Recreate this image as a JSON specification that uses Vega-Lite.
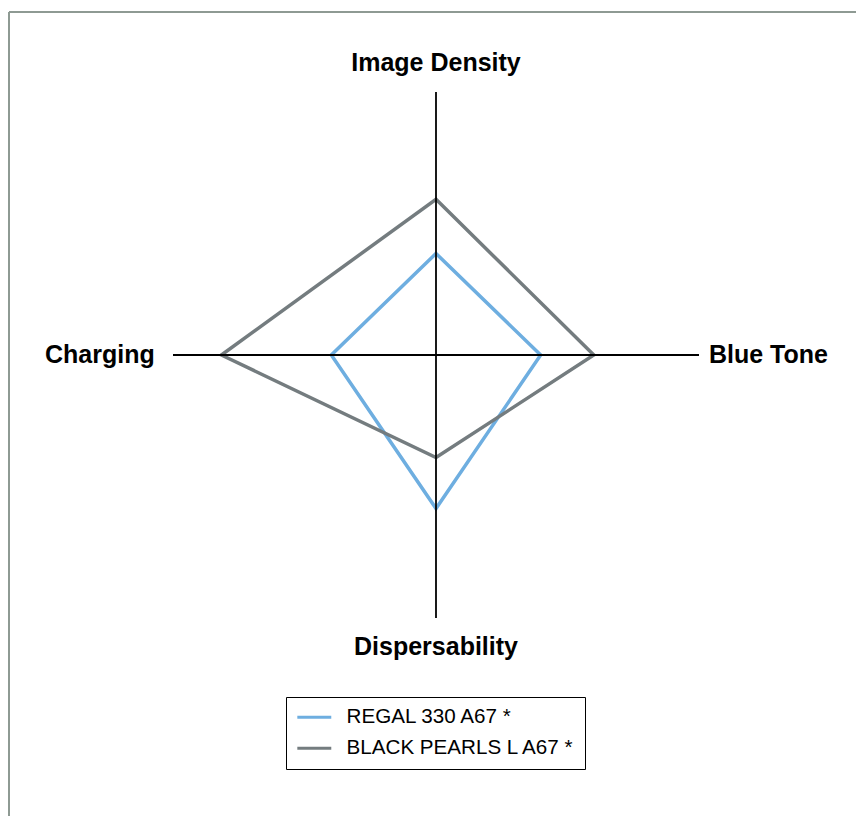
{
  "$schema": "https://vega.github.io/schema/vega-lite/v6.json",
  "width": 847,
  "height": 804,
  "autosize": "none",
  "padding": {"left": 9, "top": 12, "right": 0, "bottom": 0},
  "background": "white",
  "config": {"view": {"stroke": null}, "font": "Liberation Sans"},
  "datasets": {
    "scores": [
      {"series": "REGAL 330 A67 *", "axis": "Image Density", "value": 1.93},
      {"series": "REGAL 330 A67 *", "axis": "Blue Tone", "value": 1.99},
      {"series": "REGAL 330 A67 *", "axis": "Dispersability", "value": 2.92},
      {"series": "REGAL 330 A67 *", "axis": "Charging", "value": 1.99},
      {"series": "BLACK PEARLS L A67 *", "axis": "Image Density", "value": 2.96},
      {"series": "BLACK PEARLS L A67 *", "axis": "Blue Tone", "value": 3.0},
      {"series": "BLACK PEARLS L A67 *", "axis": "Dispersability", "value": 1.95},
      {"series": "BLACK PEARLS L A67 *", "axis": "Charging", "value": 4.08}
    ],
    "axes": [
      {"axis": "Image Density", "max": 5},
      {"axis": "Blue Tone", "max": 5},
      {"axis": "Dispersability", "max": 5},
      {"axis": "Charging", "max": 5}
    ],
    "frame": [{"edge": "frame"}]
  },
  "layer": [
    {
      "data": {"name": "frame"},
      "mark": {"type": "rule", "color": "#8e9a93", "strokeWidth": 2},
      "encoding": {
        "x": {"datum": -8.118, "type": "quantitative", "scale": {"domain": [-8.118, 7.985], "nice": false, "zero": false}, "axis": null}
      }
    },
    {
      "data": {"name": "frame"},
      "mark": {"type": "rule", "color": "#8e9a93", "strokeWidth": 2},
      "encoding": {
        "y": {"datum": 6.521, "type": "quantitative", "scale": {"domain": [-8.764, 6.521], "nice": false, "zero": false}, "axis": null}
      }
    },
    {
      "data": {"name": "scores"},
      "transform": [
        {"calculate": "indexof(['Image Density','Blue Tone','Dispersability','Charging'], datum.axis)", "as": "k"},
        {"calculate": "datum.value * sin(datum.k * PI / 2)", "as": "px"},
        {"calculate": "datum.value * cos(datum.k * PI / 2)", "as": "py"}
      ],
      "mark": {"type": "line", "interpolate": "linear-closed", "strokeWidth": 3.5, "strokeJoin": "miter"},
      "encoding": {
        "x": {"field": "px", "type": "quantitative", "scale": {"domain": [-8.118, 7.985], "nice": false, "zero": false}, "axis": null},
        "y": {"field": "py", "type": "quantitative", "scale": {"domain": [-8.764, 6.521], "nice": false, "zero": false}, "axis": null},
        "order": {"field": "k", "type": "quantitative"},
        "color": {
          "field": "series",
          "type": "nominal",
          "scale": {"domain": ["REGAL 330 A67 *", "BLACK PEARLS L A67 *"], "range": ["#6eaee0", "#747c7f"]},
          "legend": {
            "title": null,
            "orient": "none",
            "legendX": 277,
            "legendY": 685,
            "direction": "vertical",
            "strokeColor": "black",
            "fillColor": "white",
            "padding": 10,
            "symbolType": "M-3,0H3",
            "symbolStrokeWidth": 3,
            "symbolSize": 128,
            "symbolOffset": 8,
            "labelFontSize": 20.6,
            "labelFont": "Liberation Sans",
            "labelColor": "black",
            "labelOffset": 22,
            "labelLimit": 400,
            "rowPadding": 10
          }
        }
      }
    },
    {
      "data": {"name": "axes"},
      "transform": [
        {"calculate": "indexof(['Image Density','Blue Tone','Dispersability','Charging'], datum.axis)", "as": "k"},
        {"calculate": "datum.max * sin(datum.k * PI / 2)", "as": "ex"},
        {"calculate": "datum.max * cos(datum.k * PI / 2)", "as": "ey"},
        {"calculate": "0", "as": "origin"}
      ],
      "mark": {"type": "rule", "color": "black", "strokeWidth": 1.8},
      "encoding": {
        "x": {"field": "origin", "type": "quantitative", "scale": {"domain": [-8.118, 7.985], "nice": false, "zero": false}, "axis": null},
        "y": {"field": "origin", "type": "quantitative", "scale": {"domain": [-8.764, 6.521], "nice": false, "zero": false}, "axis": null},
        "x2": {"field": "ex"},
        "y2": {"field": "ey"}
      }
    },
    {
      "data": {"name": "axes"},
      "transform": [
        {"calculate": "indexof(['Image Density','Blue Tone','Dispersability','Charging'], datum.axis)", "as": "k"},
        {"calculate": "datum.k % 2 == 0 ? datum.max * 1.112 : (datum.k == 1 ? datum.max * 1.264 : datum.max * 1.278)", "as": "r"},
        {"calculate": "datum.r * sin(datum.k * PI / 2)", "as": "lx"},
        {"calculate": "datum.r * cos(datum.k * PI / 2)", "as": "ly"}
      ],
      "mark": {"type": "text", "fontWeight": "bold", "fontSize": 25, "align": "center", "baseline": "middle", "color": "black", "font": "Liberation Sans"},
      "encoding": {
        "x": {"field": "lx", "type": "quantitative", "scale": {"domain": [-8.118, 7.985], "nice": false, "zero": false}, "axis": null},
        "y": {"field": "ly", "type": "quantitative", "scale": {"domain": [-8.764, 6.521], "nice": false, "zero": false}, "axis": null},
        "text": {"field": "axis", "type": "nominal"}
      }
    }
  ]
}
